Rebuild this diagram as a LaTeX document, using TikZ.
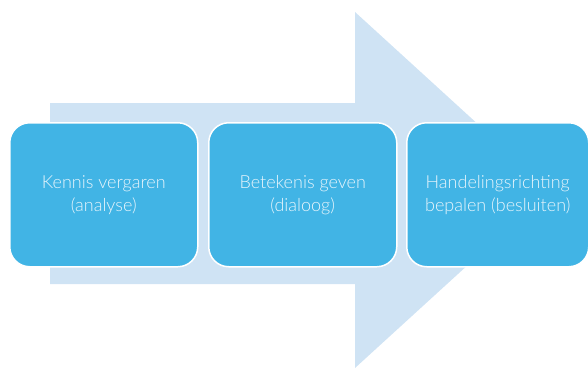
\documentclass[tikz,border=0pt]{standalone}
\usepackage{fontspec}
\setmainfont{Lato Light}
\definecolor{arrowc}{HTML}{CFE3F4}
\definecolor{boxc}{HTML}{41B4E5}
\definecolor{txtc}{HTML}{E8F5FC}
\begin{document}
\begin{tikzpicture}[x=1pt,y=-1pt,
  stepbox/.style={draw=white,line width=1.5pt,fill=boxc,rounded corners=20pt,
    minimum width=188pt,minimum height=144pt,anchor=north west,
    text=txtc,align=center,font=\fontsize{18}{23}\selectfont}]
\useasboundingbox (0,0) rectangle (588,369);
\fill[arrowc] (50,103) -- (355,103) -- (355,12) -- (550,190) -- (355,368) -- (355,284) -- (50,284) -- cycle;
\node[stepbox] (b1) at (9,122) {Kennis vergaren\\(analyse)};
\node[stepbox] (b2) at (208,122) {Betekenis geven\\(dialoog)};
\node[stepbox,minimum width=182pt] (b3) at (406,122) {Handelingsrichting\\bepalen (besluiten)};
\end{tikzpicture}
\end{document}
